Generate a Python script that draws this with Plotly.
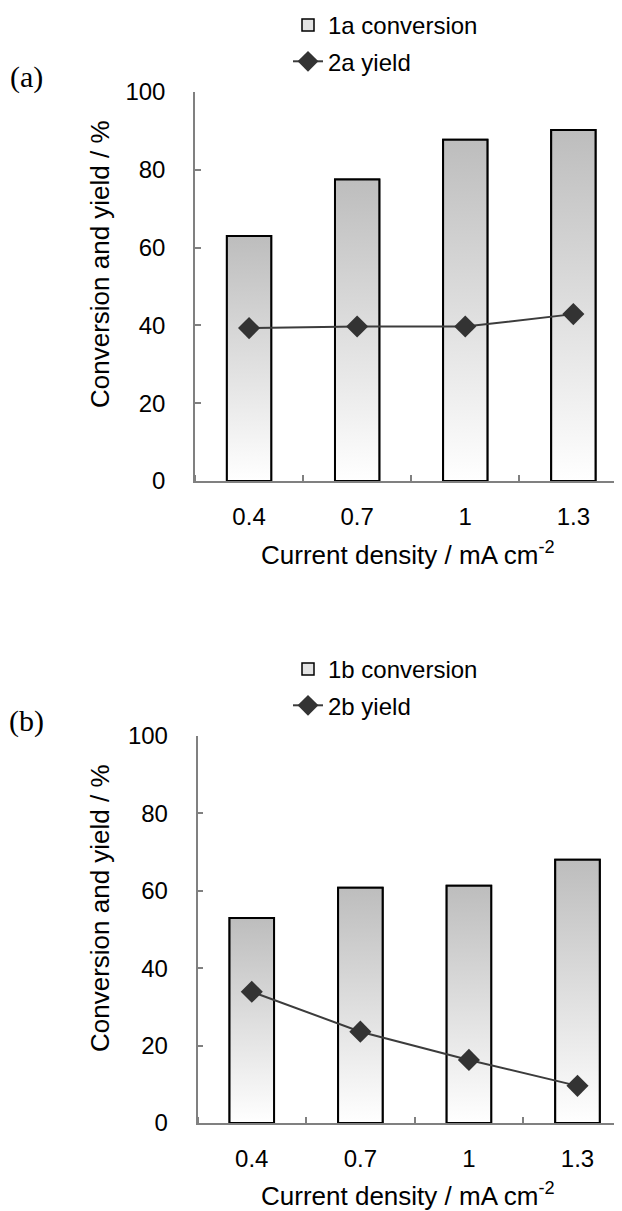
import plotly.graph_objects as go

categories = ["0.4", "0.7", "1", "1.3"]
conv_a = [63.0, 77.5, 87.7, 90.2]
yield_a = [39.3, 39.7, 39.7, 42.9]
conv_b = [53.0, 60.8, 61.3, 68.0]
yield_b = [33.9, 23.6, 16.3, 9.6]

# page body has an 8px margin: work in reference pixels, convert to paper
OFF = 8
W, H = 622 - OFF, 1211 - OFF


def px(rx):
    return (rx - OFF) / W


def py(ry):
    return 1 - (ry - OFF) / H


BAR_W = 0.41
FONT = "Liberation Sans, Arial, sans-serif"

fig = go.Figure()

panels = [
    dict(conv=conv_a, yld=yield_a, cname="1a conversion", yname="2a yield",
         xa="x", ya="y", leg="legend", tag="(a)", top=92, bot=481, xl=195, xr=3.45,
         xt=553),
    dict(conv=conv_b, yld=yield_b, cname="1b conversion", yname="2b yield",
         xa="x2", ya="y2", leg="legend2", tag="(b)", top=736, bot=1123, xl=197.5, xr=3.41,
         xt=1194),
]

xpos = list(range(len(categories)))

for p in panels:
    # bars (data carrier)
    fig.add_trace(go.Bar(
        x=xpos, y=p["conv"], width=BAR_W,
        marker=dict(color="rgba(0,0,0,0)", line=dict(color="black", width=2)),
        showlegend=False, hoverinfo="skip", xaxis=p["xa"], yaxis=p["ya"]))
    # gradient fill + outline of each bar (derived from data values)
    for i, v in zip(xpos, p["conv"]):
        x0, x1 = i - BAR_W / 2, i + BAR_W / 2
        fig.add_trace(go.Scatter(
            x=[x0, x1, x1, x0, x0], y=[0, 0, v, v, 0],
            mode="lines", fill="toself", line=dict(width=2, color="black"),
            fillgradient=dict(type="vertical",
                              colorscale=[[0, "#ffffff"], [1, "#bdbdbd"]]),
            showlegend=False, hoverinfo="skip", xaxis=p["xa"], yaxis=p["ya"]))
    # legend entry for bars
    fig.add_trace(go.Bar(
        x=[None], y=[None], name=p["cname"],
        marker=dict(color="#e4e4e4", line=dict(color="black", width=1.5)),
        legend=p["leg"], legendgroup="c" + p["leg"], xaxis=p["xa"], yaxis=p["ya"]))
    # yield line
    fig.add_trace(go.Scatter(
        x=xpos, y=p["yld"], mode="lines+markers", name=p["yname"],
        line=dict(color="#3c3c3c", width=2),
        marker=dict(symbol="diamond", size=17, color="#333333"),
        legend=p["leg"], legendgroup="y" + p["leg"], xaxis=p["xa"], yaxis=p["ya"]))

axis_common = dict(showline=True, linecolor="#808080", linewidth=1.5,
                   showgrid=False, zeroline=False, automargin=False,
                   tickfont=dict(family=FONT, size=24, color="black"))

layout = dict(width=W, height=H,
              margin=dict(l=0, r=0, t=0, b=0, autoexpand=False),
              plot_bgcolor="white", paper_bgcolor="white", barmode="overlay",
              annotations=[])

for k, p in enumerate(panels):
    sfx = "" if k == 0 else str(k + 1)
    layout["xaxis" + sfx] = dict(
        axis_common, domain=[px(p["xl"]), 1], range=[-0.5, p["xr"]],
        tickmode="array", tickvals=xpos, ticktext=categories, ticks="",
        ticklabelstandoff=13,
        minor=dict(tickmode="array", tickvals=[x + 0.5 for x in [-1] + xpos],
                   ticks="inside", ticklen=6, tickcolor="#808080", tickwidth=1.5),
        anchor="y" + sfx)
    layout["yaxis" + sfx] = dict(
        axis_common, domain=[py(p["bot"]), py(p["top"])],
        range=[0, 100], tickmode="linear", tick0=0, dtick=20,
        ticks="inside", ticklen=6, tickcolor="#808080", tickwidth=1.5,
        ticklabelstandoff=23, anchor="x" + sfx)
    off = p["top"] - 92
    layout["legend" if k == 0 else "legend2"] = dict(
        x=px(288), y=py(3 + off), xanchor="left", yanchor="top",
        font=dict(family=FONT, size=24, color="black"),
        traceorder="grouped", tracegroupgap=2, bgcolor="rgba(0,0,0,0)")
    layout["annotations"] += [
        dict(text=p["tag"], x=px(26), y=py(77 + off), xref="paper", yref="paper",
             xanchor="center", yanchor="middle", showarrow=False,
             font=dict(family="Liberation Serif, Times New Roman, serif",
                       size=30, color="black")),
        dict(text="Conversion and yield / %", textangle=-90, x=px(100),
             y=py(264 + off), xref="paper", yref="paper",
             xanchor="center", yanchor="middle", showarrow=False,
             font=dict(family=FONT, size=26, color="black")),
        dict(text="Current density / mA cm<sup>-2</sup>", x=px(408),
             y=py(p["xt"]), xref="paper", yref="paper",
             xanchor="center", yanchor="middle", showarrow=False,
             font=dict(family=FONT, size=26, color="black")),
    ]

fig.update_layout(**layout)
fig.write_html("out.html")
